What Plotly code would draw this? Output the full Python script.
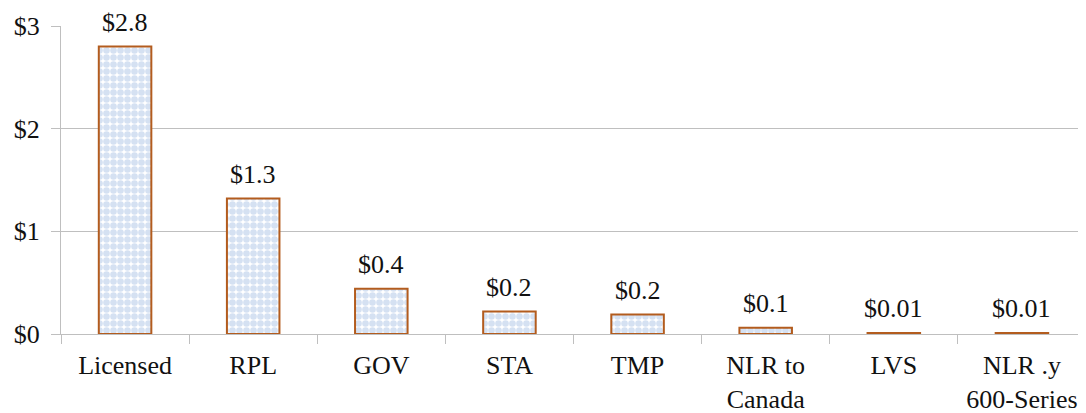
import plotly.graph_objects as go

categories = ["Licensed", "RPL", "GOV", "STA", "TMP", "NLR to<br>Canada", "LVS", "NLR .y<br>600-Series"]
values = [2.8, 1.32, 0.44, 0.22, 0.19, 0.06, 0.01, 0.01]
labels = ["$2.8", "$1.3", "$0.4", "$0.2", "$0.2", "$0.1", "$0.01", "$0.01"]
y_ticks = [0, 1, 2, 3]
y_tick_text = ["$0", "$1", "$2", "$3"]

FONT = "Liberation Serif, Times New Roman, serif"
FS = 26

fig = go.Figure()
fig.add_trace(go.Bar(
    x=categories, y=values,
    marker=dict(
        color="white",
        line=dict(color="#b35c1e", width=2),
        pattern=dict(shape=".", fgcolor="#abc3e5", bgcolor="white", size=7, solidity=0.7),
    ),
    width=0.41,
    hoverinfo="skip",
))

for c, v, t in zip(categories, values, labels):
    fig.add_annotation(x=c, y=v, text=t, showarrow=False, yanchor="middle", yshift=24,
                       font=dict(family=FONT, size=FS, color="#111"))

# page body has an 8px margin, so the figure is sized/positioned to compensate
fig.update_layout(
    width=1078, height=405,
    margin=dict(l=53, r=0, t=18, b=79, autoexpand=False),
    paper_bgcolor="white", plot_bgcolor="white",
    showlegend=False,
    font=dict(family=FONT, size=FS, color="#111"),
)
fig.update_yaxes(
    range=[0, 3], tickvals=y_ticks, ticktext=y_tick_text,
    showgrid=True, gridcolor="#bfbfbf", gridwidth=1,
    showline=True, linecolor="#bfbfbf", linewidth=1,
    ticks="outside", ticklen=9, tickcolor="#bfbfbf",
    ticklabelstandoff=6, zeroline=False,
    tickfont=dict(family=FONT, size=FS, color="#111"),
)
fig.update_xaxes(
    showgrid=False, showline=True, linecolor="#bfbfbf", linewidth=1,
    ticks="outside", ticklen=9, tickcolor="#bfbfbf", tickson="boundaries",
    ticklabelstandoff=8,
    tickfont=dict(family=FONT, size=FS, color="#111"),
)

fig.write_html("out.html")
